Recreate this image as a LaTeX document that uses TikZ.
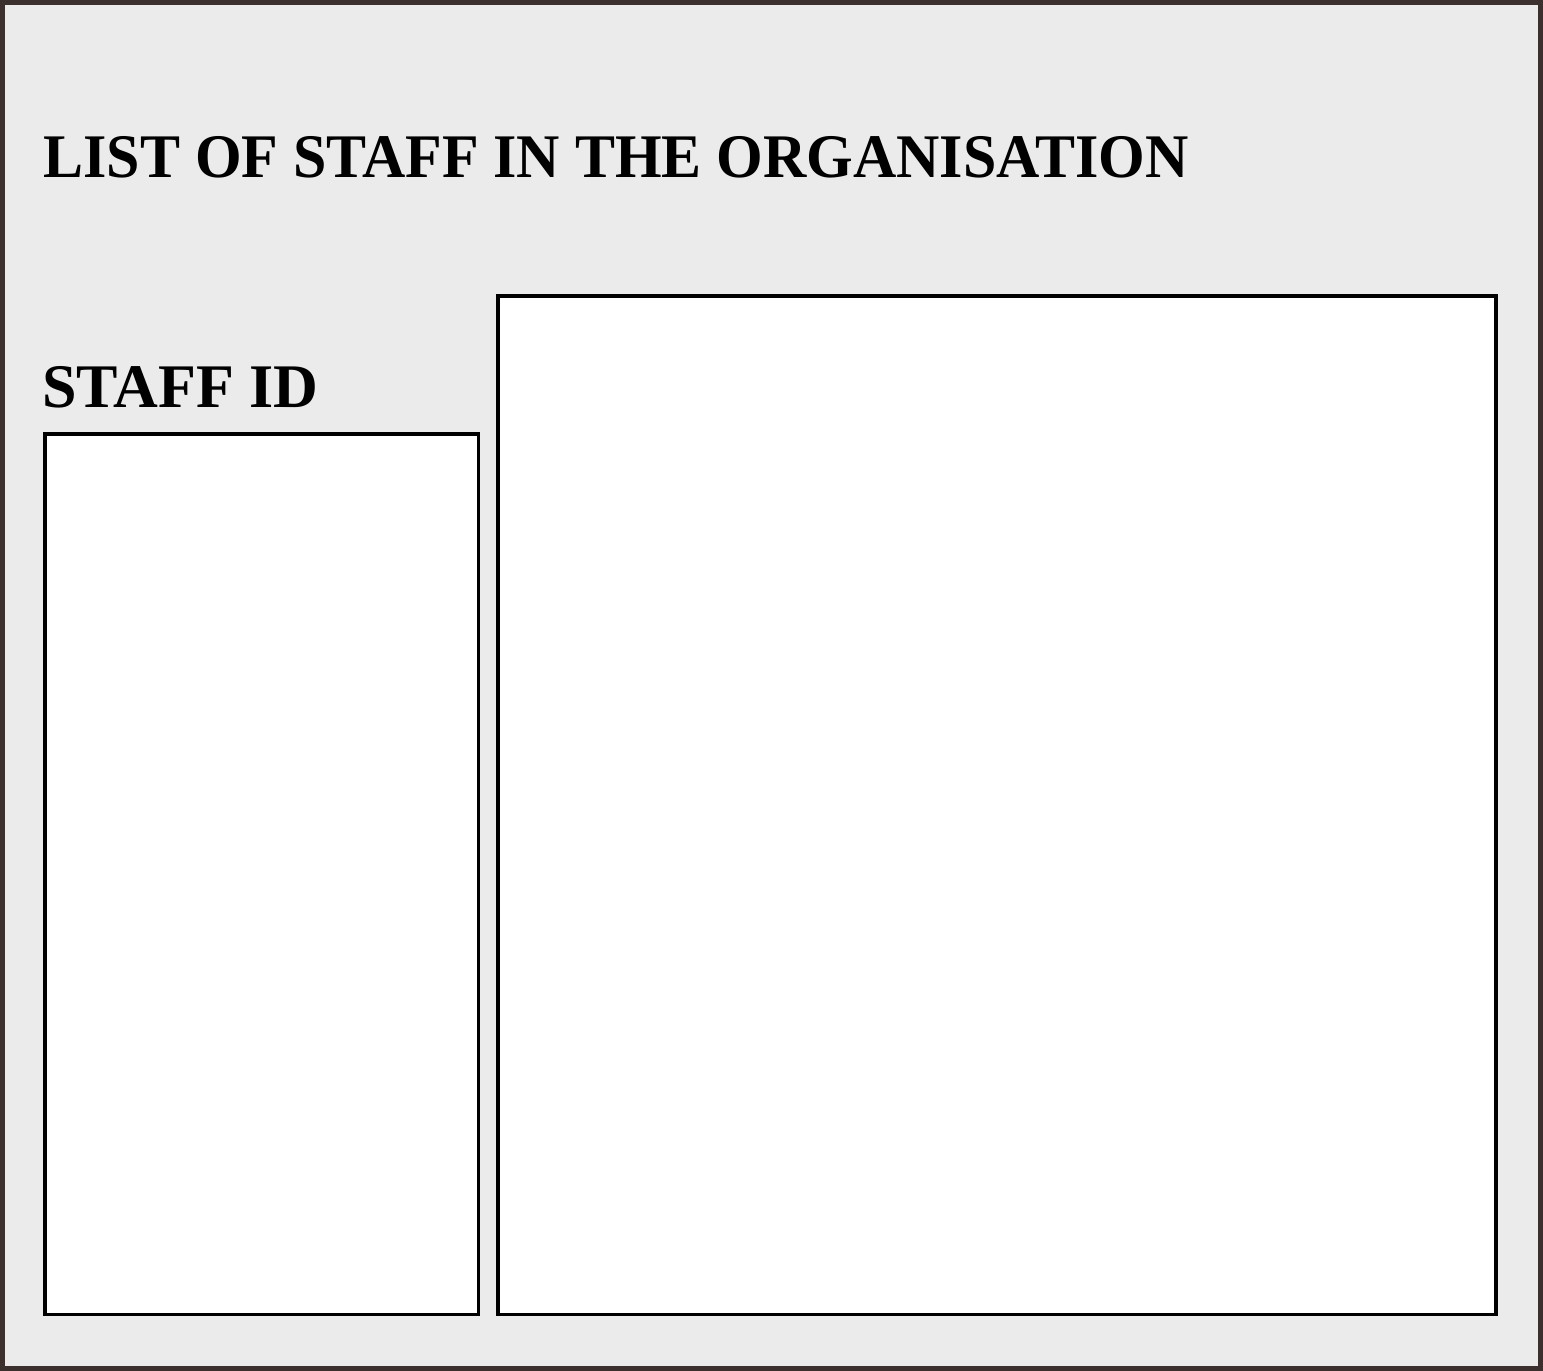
\documentclass[tikz,border=0pt]{standalone}
\usepackage{fontspec}
\setmainfont{Liberation Serif}
\definecolor{bgray}{HTML}{EBEBEB}
\definecolor{frame}{HTML}{3B302E}
\tikzset{
  panel/.style={draw=black, fill=white, line width=1.75pt},
  heading/.style={anchor=base west, inner sep=0pt, font=\fontsize{31}{36}\selectfont\bfseries}
}
\begin{document}
\begin{tikzpicture}[x=0.5pt,y=-0.5pt]
\useasboundingbox (0,0) rectangle (1543,1371);
\draw[fill=bgray, draw=frame, line width=2.5pt] (2.5,2.5) rectangle (1540.5,1368.5);
\node[heading, xscale=0.967] (title) at (43,177) {LIST OF STAFF IN THE ORGANISATION};
\node[heading] (idlabel) at (42,407) {STAFF ID};
\draw[panel] (45,434) rectangle (478.5,1314.5);
\draw[panel] (498,296) rectangle (1496,1314.5);
\end{tikzpicture}
\end{document}
